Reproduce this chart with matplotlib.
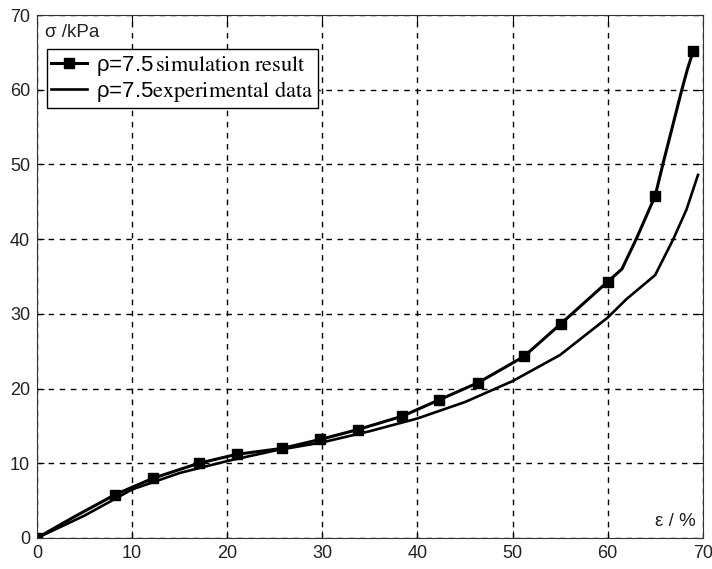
import matplotlib.pyplot as plt
import numpy as np

plt.rcParams['font.family'] = ['Liberation Sans', 'DejaVu Sans']
plt.rcParams['mathtext.fontset'] = 'stix'

# simulation result: curve, markers at selected points
sim_x = [0, 4, 8.2, 12.2, 17.0, 21.0, 25.8, 29.8, 33.7, 38.4, 42.3, 46.4, 51.2, 55.1, 60.0,
         61.5, 63.0, 65.0, 65.8, 66.8, 67.8, 68.4, 69.0]
sim_y = [0, 2.9, 5.8, 8.0, 10.0, 11.2, 12.0, 13.2, 14.5, 16.3, 18.5, 20.8, 24.3, 28.7, 34.3,
         36.0, 40.0, 45.8, 50.0, 55.0, 60.0, 62.8, 65.2]
sim_marks = [0, 2, 3, 4, 5, 6, 7, 8, 9, 10, 11, 12, 13, 14, 17, 22]

# experimental data
exp_x = [0, 5, 10, 15, 20, 25, 30, 35, 40, 45, 50, 55, 60, 62, 65, 66.9, 68.3, 69.5]
exp_y = [0, 3.0, 6.5, 8.7, 10.3, 11.7, 12.8, 14.3, 16.0, 18.2, 21.0, 24.5, 29.5, 32.0, 35.2, 40.0, 44.0, 48.6]

fig = plt.figure(figsize=(7.12, 5.69), dpi=100)
ax = fig.add_axes([0.052, 0.0545, 0.935, 0.919])

ax.plot(sim_x, sim_y, '-s', color='black', lw=2.2, ms=7.5, markevery=sim_marks,
        label='ρ=7.5' + r'$\mathrm{\,simulation\ result}$')
ax.plot(exp_x, exp_y, '-', color='black', lw=1.9,
        label='ρ=7.5' + r'$\mathrm{experimental\ data}$')

ax.set_xlim(0, 70)
ax.set_ylim(0, 70)
ax.set_xticks(np.arange(0, 71, 10))
ax.set_yticks(np.arange(0, 71, 10))
ax.grid(True, color='black', linestyle=(0, (4, 4)), lw=1)
ax.tick_params(direction='in', length=5, top=True, right=True, labelsize=13, pad=5,
               labelcolor='#222222')
for s in ax.spines.values():
    s.set_color('#333333')

ax.text(0.012, 0.982, 'σ /kPa', transform=ax.transAxes, ha='left', va='top', fontsize=13.5,
        color='#222222', bbox=dict(facecolor='white', edgecolor='none', pad=1))
ax.text(0.99, 0.015, 'ε / %', transform=ax.transAxes, ha='right', va='bottom', fontsize=13.5,
        color='#222222', bbox=dict(facecolor='white', edgecolor='none', pad=1))

leg = ax.legend(loc='upper left', bbox_to_anchor=(0.015, 0.935), borderaxespad=0,
                fontsize=16, frameon=True, fancybox=False, edgecolor='black', framealpha=1,
                handlelength=1.6, borderpad=0.2, labelspacing=0.05, handletextpad=0.4)
leg.get_frame().set_linewidth(1)

fig.savefig('out.png', dpi=100)
